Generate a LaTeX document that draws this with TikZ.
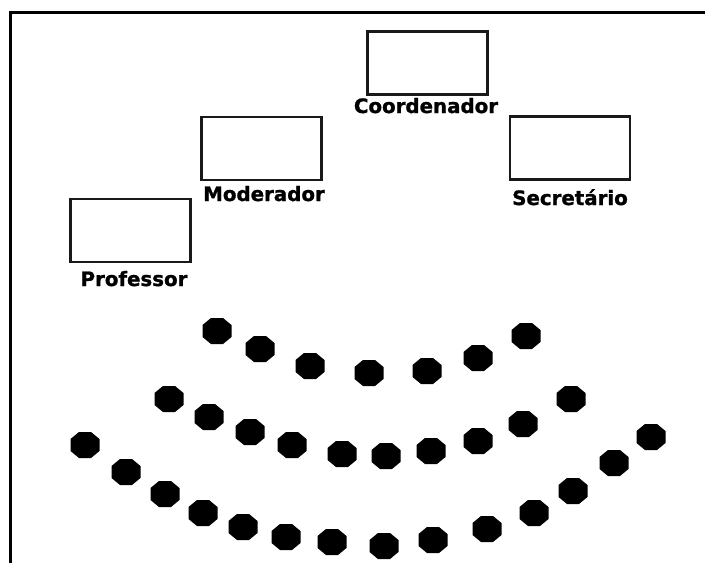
\documentclass[tikz,border=0pt]{standalone}
\usepackage{fontspec}
\setmainfont{DejaVu Sans}[BoldFeatures={FakeBold=1.2}]
\begin{document}
\begin{tikzpicture}[x=1pt,y=-1pt,
  seat/.pic={\fill (-14.5,-6)--(-6,-13)--(6,-13)--(14.5,-6)--(14.5,6)--(6,13)--(-6,13)--(-14.5,6)--cycle;},
  post/.style={draw=black!90, line width=2.2pt, fill=white, minimum width=120pt, minimum height=63pt, inner sep=0pt},
  role/.style={font=\bfseries\fontsize{19.8}{20}\selectfont, inner sep=0pt, anchor=base}]
\useasboundingbox (0,0) rectangle (705,563);

% open frame: left and top edges only
\coordinate (fbl) at (10,563);
\coordinate (ftl) at (10,12);
\coordinate (ftr) at (705,12);
\draw[line width=3pt] (fbl) -- (ftl) -- (ftr);

% tables of the panel
\node[post] (coord) at (427.5,63) {};
\node[post] (mod)   at (261.5,148.5) {};
\node[post] (sec)   at (570,148) {};
\node[post] (prof)  at (130.5,230.5) {};

\node[role] (coordl) at (426,113) {Coordenador};
\node[role] (modl)   at (264,201) {Moderador};
\node[role] (secl)   at (570,205) {Secretário};
\node[role] (profl)  at (134,286) {Professor};

% audience, front row
\foreach \p in {(217,331),(260,349),(310,366),(369,373),(427,371),(478,358),(526,336)}
  \pic at \p {seat};
% middle row
\foreach \p in {(169,399),(209,417),(250,432),(292,445),(342,454),(386,456),(431,451),(478,441),(523,424),(571,399)}
  \pic at \p {seat};
% back row
\foreach \p in {(85,445),(126,472),(165,494),(203,513),(243,527),(286,537),(332,542),(384,546),(433,540),(487,529),(534,513),(573,491),(614,463),(651,437)}
  \pic at \p {seat};
\end{tikzpicture}
\end{document}
